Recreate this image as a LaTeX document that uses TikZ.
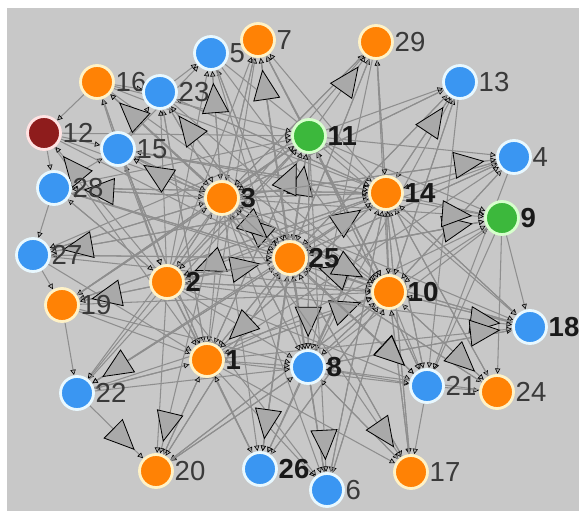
\documentclass[tikz,border=0pt]{standalone}
\usepackage{fontspec}
\setmainfont{Liberation Sans}
\usetikzlibrary{arrows.meta,decorations.markings}
\definecolor{bgc}{HTML}{C8C8C8}
\definecolor{edgec}{HTML}{8E8E8E}
\definecolor{trif}{HTML}{A9A9A9}
\definecolor{orfill}{HTML}{FF8205}
\definecolor{orbord}{HTML}{FFF2C6}
\definecolor{blfill}{HTML}{3A96F2}
\definecolor{blbord}{HTML}{E8F8FF}
\definecolor{grfill}{HTML}{3CB83C}
\definecolor{grbord}{HTML}{D6FFCC}
\definecolor{rdfill}{HTML}{8E1C1C}
\definecolor{rdbord}{HTML}{FFE2E2}
\definecolor{labc}{HTML}{3A3A3A}
\pgfdeclarelayer{edgelayer}
\pgfsetlayers{edgelayer,main}
\newcommand\mkv[6]{\node[#4] (n#1) at (#2,#3) {};
  \node[#5, anchor=west] (l#1) at (n#1.east) {#6};}
\begin{document}
\begin{tikzpicture}[x=0.03cm,y=-0.03cm,
  vtx/.style={circle, minimum size=0.99cm, inner sep=0pt, line width=2.4pt},
  onode/.style={vtx, fill=orfill, draw=orbord},
  bnode/.style={vtx, fill=blfill, draw=blbord},
  gnode/.style={vtx, fill=grfill, draw=grbord},
  rnode/.style={vtx, fill=rdfill, draw=rdbord},
  lab/.style={font=\fontsize{23.5pt}{24pt}\selectfont, text=labc, inner sep=0.5pt},
  blab/.style={font=\fontsize{23.5pt}{24pt}\selectfont\bfseries, text=black!90, inner sep=0.5pt},
  edge/.style={draw=edgec, line width=0.9pt, shorten >=0.3pt,
    -{Triangle[length=4.5pt,width=4.5pt,color=black,fill=trif,line width=0.5pt]}},
  bigedge/.style={edge, postaction={decorate},
    decoration={markings, mark=at position -11pt with {
      \draw[black, fill=trif, line width=0.7pt] (0,0) -- (-29,13) -- (-29,-13) -- cycle;}}}
]
\useasboundingbox (0,0) rectangle (579,511);
% vertices
\mkv{1}{207}{360}{onode}{blab}{1}
\mkv{2}{167}{282}{onode}{blab}{2}
\mkv{3}{222}{198}{onode}{blab}{3}
\mkv{4}{514}{157}{bnode}{lab}{4}
\mkv{5}{211}{53}{bnode}{lab}{5}
\mkv{6}{327}{490}{bnode}{lab}{6}
\mkv{7}{258}{40}{onode}{lab}{7}
\mkv{8}{308}{367}{bnode}{blab}{8}
\mkv{9}{502}{218}{gnode}{blab}{9}
\mkv{10}{389}{292}{onode}{blab}{10}
\mkv{11}{309}{136}{gnode}{blab}{11}
\mkv{12}{44}{133}{rnode}{lab}{12}
\mkv{13}{460}{82}{bnode}{lab}{13}
\mkv{14}{386}{193}{onode}{blab}{14}
\mkv{15}{118}{149}{bnode}{lab}{15}
\mkv{16}{97}{82}{onode}{lab}{16}
\mkv{17}{411}{472}{onode}{lab}{17}
\mkv{18}{530}{327}{bnode}{blab}{18}
\mkv{19}{62}{305}{onode}{lab}{19}
\mkv{20}{156}{471}{onode}{lab}{20}
\mkv{21}{427}{386}{bnode}{lab}{21}
\mkv{22}{77}{393}{bnode}{lab}{22}
\mkv{23}{160}{92}{bnode}{lab}{23}
\mkv{24}{497}{392}{onode}{lab}{24}
\mkv{25}{290}{258}{onode}{blab}{25}
\mkv{26}{260}{469}{bnode}{blab}{26}
\mkv{27}{33}{255}{bnode}{lab}{27}
\mkv{28}{54}{188}{bnode}{lab}{28}
\mkv{29}{376}{42}{onode}{lab}{29}
\begin{pgfonlayer}{edgelayer}
\fill[bgc] (7,8) rectangle (579,511);
\foreach \a/\b in {3/7,14/7,2/7,11/7,10/7,1/7,2/5,25/5,15/5,
  14/29,25/29,3/29,10/29,2/29,11/13,25/13,3/13,10/13,8/13,
  15/16,2/16,25/16,3/23,1/23,2/23,14/23,16/12,
  3/15,10/15,14/15,1/15,3/11,2/11,8/11,10/11,21/11,
  11/4,25/4,14/4,2/4,10/4,1/4,12/28,25/28,14/28,2/28,
  11/3,2/3,14/3,10/3,8/3,3/14,1/14,8/14,10/14,21/14,15/14,
  11/9,2/9,1/9,8/9,14/9,15/9,28/27,3/27,25/27,11/27,
  11/25,14/25,1/25,8/25,21/25,26/25,20/25,
  3/2,25/2,11/2,10/2,15/2,25/10,11/10,2/10,14/10,8/10,9/10,
  27/19,3/19,11/19,14/19,9/18,10/18,25/18,14/18,3/18,8/18,11/18,
  2/1,3/1,25/1,11/1,10/1,23/1,15/1,25/8,3/8,2/8,1/8,14/8,10/8,5/8,
  19/22,2/22,3/22,1/22,14/22,10/21,14/21,1/21,8/21,2/21,9/21,11/21,
  21/24,14/24,25/24,9/24,1/20,2/20,25/20,8/20,10/20,
  1/26,2/26,3/26,10/26,14/26,11/26,8/26,
  21/17,10/17,8/17,25/17,14/17,1/17,8/6,25/6,10/6,14/6,1/6,3/6,2/6,
  23/5,16/23,15/23,12/15,28/15,23/3,5/3,7/3,29/14,13/14,4/14,
  7/25,5/25,29/25,13/25,4/25,9/25,18/25,24/25,17/25,6/25,22/25,19/25,
  27/25,28/25,12/25,16/25,23/25,7/10,5/10,23/10,16/10,4/10,13/10,
  18/10,24/10,17/10,6/10,26/10,20/10,22/10,19/10,27/10,28/10,
  16/3,12/3,15/3,28/3,27/3,19/3,13/3,29/3,4/3,
  16/14,23/14,5/14,28/14,27/14,19/14,18/14,24/14,17/14,6/14,
  20/8,22/8,19/8,17/8,24/8,18/8,22/1,20/1,19/1,27/1,26/1,
  12/11,16/11,28/11,19/11,22/11,12/1,28/2,16/2,29/8,13/21,4/21,7/8}
  {\draw[edge] (n\a) -- (n\b);}
\foreach \a/\b in {25/7,3/5,11/29,14/13,3/16,25/23,2/12,25/15,25/11,1/11,
  3/4,3/28,25/3,3/25,25/14,25/9,3/9,14/27,10/25,2/25,14/2,3/10,1/10,
  25/19,2/18,1/18,14/1,11/8,25/22,25/21,3/21,10/24,22/20,3/20,
  25/26,3/17,11/6}
  {\draw[bigedge] (n\a) -- (n\b);}
\end{pgfonlayer}
\end{tikzpicture}
\end{document}
